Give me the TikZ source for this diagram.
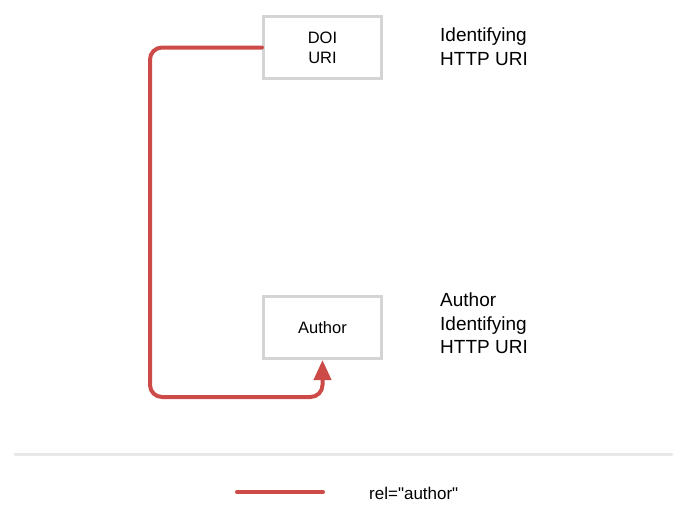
\documentclass[tikz,border=0pt]{standalone}
\usepackage{fontspec}
\setmainfont{Liberation Sans}
\newfontfamily\plainquotes{Liberation Sans}[Ligatures=ResetAll]
\usepackage{xcolor}
\usepackage{tikz}
\usetikzlibrary{positioning, arrows.meta}
\definecolor{relred}{RGB}{204,74,72}
\definecolor{boxgray}{RGB}{212,212,212}
\definecolor{rulegray}{RGB}{232,232,232}
\tikzstyle{uri} = [rectangle, minimum width=118pt, minimum height=62pt, line width=3pt, text centered, align=center, draw=boxgray, font=\fontsize{16.5}{20}\selectfont]
\tikzstyle{note} = [inner sep=0pt, align=left, font=\fontsize{19}{23.5}\selectfont]
\tikzstyle{relline} = [line width=4pt, draw=relred, rounded corners=12pt, line cap=round]

\begin{document}
\begin{tikzpicture}[x=1pt, y=-1pt]
		\useasboundingbox (0,0) rectangle (688,515);
		\node (DOI)[uri] at (322.5,47.5){DOI\\URI};
		\node (Author)[uri] at (322.5,327.5){Author};
		\node (DOI Note)[note, right = 57pt of DOI, yshift=1pt]{Identifying\\HTTP URI};
		\node (Author Note)[note, right = 57pt of Author, yshift=4pt]{Author\\Identifying\\HTTP URI};
		\coordinate (Loop) at (150,397);
		\draw [relline, -{Triangle[length=20pt, width=17pt]}] (DOI.west) -| (Loop) -| (Author.south);
		% legend
		\draw [line width=3pt, rulegray, line cap=round] (15,454) -- (672,454);
		\coordinate (Legend Start) at (237,492);
		\coordinate (Legend End) at (323,492);
		\draw [relline] (Legend Start) -- (Legend End);
		\node (Legend Text)[note, font=\plainquotes\fontsize{17}{20}\selectfont, anchor=west] at (369,493){rel="author"};
	\end{tikzpicture}
\end{document}
